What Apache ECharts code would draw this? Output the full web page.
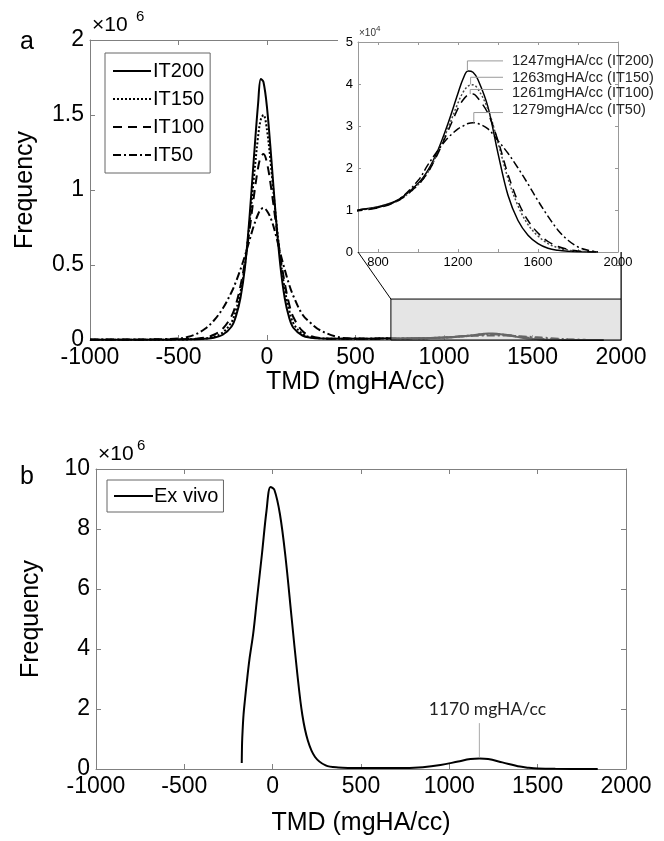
<!DOCTYPE html>
<html><head><meta charset="utf-8">
<script src="https://cdn.jsdelivr.net/npm/echarts@6/dist/echarts.min.js"></script>
<style>html,body{margin:0;padding:0;background:#fff}#c{width:664px;height:841px}</style>
</head><body><div id="c"></div>
<script>
// ---- data (frequencies in millions) ----
const tmd = [-1000,-800,-600,-500,-450,-400,-350,-300,-250,-200,-175,-150,-125,-100,-75,-50,-35,-20,0,25,50,75,100,125,150,200,250,300,400,500,600,700,800,900,1000,1050,1100,1150,1200,1225,1250,1275,1300,1350,1400,1450,1500,1550,1600,1650,1700,1750,1800,1850,1900];
const it200 = [0.002,0.002,0.002,0.003,0.004,0.005,0.008,0.015,0.035,0.09,0.16,0.28,0.48,0.8,1.2,1.58,1.74,1.72,1.55,1.2,0.82,0.5,0.28,0.15,0.08,0.03,0.015,0.01,0.008,0.008,0.009,0.0100,0.0108,0.0124,0.0163,0.0195,0.0243,0.0306,0.0378,0.0412,0.0431,0.0428,0.041,0.0345,0.0235,0.0135,0.0075,0.004,0.002,0.0009,0.0004,0.00015,0.00005,0.00002,0];
const it150 = [0.002,0.002,0.002,0.003,0.004,0.006,0.01,0.022,0.05,0.12,0.2,0.32,0.5,0.76,1.07,1.36,1.47,1.5,1.4,1.13,0.82,0.55,0.34,0.2,0.11,0.04,0.018,0.011,0.008,0.008,0.009,0.0099,0.0107,0.0122,0.016,0.019,0.0238,0.0295,0.0355,0.038,0.0395,0.0398,0.0388,0.034,0.026,0.0175,0.011,0.0065,0.0038,0.002,0.001,0.00045,0.0002,0.00005,0];
const it100 = [0.002,0.002,0.003,0.004,0.006,0.009,0.016,0.035,0.075,0.16,0.24,0.36,0.52,0.72,0.95,1.15,1.22,1.24,1.18,1.0,0.78,0.56,0.38,0.24,0.15,0.06,0.025,0.013,0.008,0.008,0.009,0.0098,0.0105,0.0122,0.016,0.019,0.0235,0.0288,0.0342,0.0362,0.0374,0.0376,0.0366,0.033,0.0265,0.0185,0.012,0.0075,0.0045,0.0025,0.0013,0.0006,0.00025,0.00008,0];
const it50 = [0.003,0.003,0.005,0.01,0.02,0.04,0.075,0.13,0.21,0.32,0.39,0.47,0.56,0.66,0.76,0.84,0.87,0.88,0.86,0.8,0.7,0.58,0.47,0.37,0.29,0.17,0.11,0.065,0.02,0.01,0.009,0.01,0.0106,0.0124,0.017,0.0208,0.0242,0.0272,0.0293,0.0300,0.0306,0.0308,0.0306,0.0293,0.0265,0.0235,0.020,0.0162,0.0122,0.0085,0.0052,0.0028,0.0012,0.0004,0.00005];
const seriesNames = ['IT200','IT150','IT100','IT50'];

const peakTmd = [1247, 1263, 1261, 1279];
const peakFreq = [0.0431, 0.0399, 0.0376, 0.0308];
const calloutLevel = [0.0455, 0.0416, 0.0387, 0.0332];
const calloutEndTmd = 1425;
const calloutText = ['1247mgHA/cc (IT200)','1263mgHA/cc (IT150)','1261mgHA/cc (IT100)','1279mgHA/cc (IT50)'];

const exTmd = [-175,-173,-170,-165,-157,-147,-132,-110,-90,-60,-35,-12,10,41,72,108,139,168,199,240,300,371,500,700,850,950,1050,1120,1170,1220,1300,1400,1450,1500,1600,1840];
const exFreq = [0.2,0.9,1.3,1.8,2.3,2.86,3.63,4.52,5.6,7.2,8.6,9.4,9.3,8.5,7.1,5.0,3.2,1.8,0.95,0.4,0.12,0.05,0.03,0.03,0.06,0.13,0.25,0.33,0.35,0.33,0.22,0.08,0.04,0.015,0.005,0.003];
const exPeakTmd = 1170, exPeakFreq = 0.38, exCalloutTop = 1.53, exCalloutText = '1170 mgHA/cc';

const zoomBoxTmd = [700, 2000];
const zoomBoxFreq = [-0.047, 0.273];
const insetTickValues = [800,1000,1200,1400,1600,1800,2000];
const insetLabelValues = [800,1200,1600,2000];

// ---- styles ----
const FONT = 'Liberation Sans, Arial, sans-serif';
const AX = '#808080';
const dash = {IT200:'solid', IT150:[2,2], IT100:[9,6], IT50:[8,3,2,3]};
const calloutOffset = [[0,0],[0,1],[0,4],[0,-3]];
const pairs = (xs, ys) => xs.map((x, i) => [x, ys[i]]);
const seriesData = [it200, it150, it100, it50];
const plain = v => String(v);

function xAx(grid, pos, min, max, opts) {
  return Object.assign({
    type:'value', gridIndex:grid, position:pos, min, max,
    axisLine:{show:true, onZero:false, lineStyle:{color:AX, width:1}},
    axisTick:{show:true, inside:true, length:5, lineStyle:{color:AX}},
    axisLabel:{show:pos==='bottom', color:'#000', fontSize:23, fontFamily:FONT, margin:6, formatter:plain},
    splitLine:{show:false}
  }, opts || {});
}
function yAx(grid, pos, min, max, interval, opts) {
  return Object.assign({
    type:'value', gridIndex:grid, position:pos, min, max, interval,
    axisLine:{show:true, onZero:false, lineStyle:{color:AX, width:1}},
    axisTick:{show:true, inside:true, length:5, lineStyle:{color:AX}},
    axisLabel:{show:pos==='left', color:'#000', fontSize:23, fontFamily:FONT, margin:6, formatter:plain},
    splitLine:{show:false}
  }, opts || {});
}

const insetXOpts = (showLab) => ({
  z:5,
  axisLine:{show:true, onZero:false, lineStyle:{color:'#999'}},
  axisTick:{show:true, inside:true, length:3, customValues:insetTickValues, lineStyle:{color:'#999'}},
  axisLabel:{show:showLab, customValues:insetLabelValues, color:'#000', fontSize:13, fontFamily:FONT, margin:4, formatter:plain}
});
const insetYOpts = (showLab) => ({
  z:5,
  axisLine:{show:true, onZero:false, lineStyle:{color:'#999'}},
  axisTick:{show:true, inside:true, length:3, lineStyle:{color:'#999'}},
  axisLabel:{show:showLab, color:'#000', fontSize:13, fontFamily:FONT, margin:5, formatter:v=>String(Math.round(v*100))}
});

const series = [];
seriesNames.forEach((n, i) => {
  const s = {
    name:n, type:'line', xAxisIndex:0, yAxisIndex:0, data:pairs(tmd, seriesData[i]),
    smooth:0.35, symbol:'none', z:2,
    lineStyle:{color:'#000', width:2, type:dash[n]}, itemStyle:{color:'#000'}
  };
  if (i === 3) {
    s.clip = false;
    s.markArea = {
      silent:true, z:10,
      itemStyle:{color:'rgba(204,204,204,0.5)', borderColor:'#000', borderWidth:1},
      data:[[{xAxis:zoomBoxTmd[0], yAxis:zoomBoxFreq[0]}, {xAxis:zoomBoxTmd[1], yAxis:zoomBoxFreq[1]}]]
    };
  }
  series.push(s);
});
seriesNames.forEach((n, i) => {
  series.push({
    name:n, type:'line', xAxisIndex:2, yAxisIndex:2, data:pairs(tmd, seriesData[i]),
    smooth:0.35, symbol:'none', z:6,
    lineStyle:{color: i===1 ? '#444' : '#000', width:1.5, type:dash[n]}
  });
});
peakTmd.forEach((px, i) => {
  series.push({
    name:'callout'+i, type:'line', xAxisIndex:2, yAxisIndex:2, z:6, silent:true,
    data:[[px, peakFreq[i]], [px, calloutLevel[i]], [calloutEndTmd, calloutLevel[i]]],
    symbol:'none', lineStyle:{color:'#9a9a9a', width:1},
    markPoint:{symbol:'circle', symbolSize:0, silent:true,
      label:{show:true, position:'right', distance:9, offset:calloutOffset[i], formatter:calloutText[i], color:'#222', fontSize:14.5, fontFamily:FONT},
      data:[{coord:[calloutEndTmd, calloutLevel[i]]}]}
  });
});
series.push({
  name:'Ex vivo', type:'line', xAxisIndex:4, yAxisIndex:4, data:pairs(exTmd, exFreq),
  smooth:0.35, symbol:'none', lineStyle:{color:'#000', width:2}, itemStyle:{color:'#000'}
});
series.push({
  name:'exCallout', type:'line', xAxisIndex:4, yAxisIndex:4, silent:true,
  data:[[exPeakTmd, exPeakFreq], [exPeakTmd, exCalloutTop]], symbol:'none',
  lineStyle:{color:'#aaa', width:1},
  markPoint:{symbol:'circle', symbolSize:0, silent:true,
    label:{show:true, position:'top', distance:5, offset:[8,0], formatter:exCalloutText, color:'#222', fontSize:17.5, fontFamily:'Lato, Open Sans, sans-serif'},
    data:[{coord:[exPeakTmd, exCalloutTop]}]}
});

const axisNameStyle = {fontSize:25, color:'#000', fontFamily:FONT};
const option = {
  animation:false,
  backgroundColor:'#fff',
  textStyle:{fontFamily:FONT},
  grid:[
    {left:90, top:40, width:531, height:300},
    {left:358, top:42, width:260, height:210, show:true, backgroundColor:'#fff', borderWidth:0, z:4},
    {left:96, top:469, width:530, height:300}
  ],
  xAxis:[
    xAx(0,'bottom',-1000,2000,{interval:500, name:'TMD (mgHA/cc)', nameLocation:'middle', nameGap:30, nameTextStyle:axisNameStyle}),
    xAx(0,'top',-1000,2000,{interval:500}),
    Object.assign(xAx(1,'bottom',700,2000), insetXOpts(true)),
    Object.assign(xAx(1,'top',700,2000), insetXOpts(false)),
    xAx(2,'bottom',-1000,2000,{interval:500, name:'TMD (mgHA/cc)', nameLocation:'middle', nameGap:42, nameTextStyle:axisNameStyle}),
    xAx(2,'top',-1000,2000,{interval:500})
  ],
  yAxis:[
    yAx(0,'left',0,2,0.5,{name:'Frequency', nameLocation:'middle', nameGap:52, nameRotate:90, nameTextStyle:axisNameStyle}),
    yAx(0,'right',0,2,0.5),
    Object.assign(yAx(1,'left',0,0.05,0.01), insetYOpts(true)),
    Object.assign(yAx(1,'right',0,0.05,0.01), insetYOpts(false)),
    yAx(2,'left',0,10,2,{name:'Frequency', nameLocation:'middle', nameGap:52, nameRotate:90, nameTextStyle:axisNameStyle}),
    yAx(2,'right',0,10,2)
  ],
  legend:[
    {data:seriesNames, orient:'vertical', left:105, top:53, itemWidth:38, itemHeight:14, itemGap:8, padding:[8,6,8,7],
     borderColor:'#666', borderWidth:1, backgroundColor:'#fff', selectedMode:false,
     itemStyle:{opacity:0}, lineStyle:{width:2},
     textStyle:{fontSize:20, color:'#000', fontFamily:FONT, padding:[0,0,0,-3]}},
    {data:['Ex vivo'], orient:'vertical', left:107, top:480, itemWidth:39, itemHeight:14, padding:[6,5,6,6],
     borderColor:'#666', borderWidth:1, backgroundColor:'#fff', selectedMode:false,
     itemStyle:{opacity:0}, lineStyle:{width:2},
     textStyle:{fontSize:20, color:'#000', fontFamily:FONT, padding:[0,0,0,-4]}}
  ],
  series
};

const chart = echarts.init(document.getElementById('c'), null, {renderer:'canvas'});
chart.setOption(option);

const pIL = chart.convertToPixel({xAxisIndex:2, yAxisIndex:2}, [zoomBoxTmd[0], 0]);
const pIR = chart.convertToPixel({xAxisIndex:2, yAxisIndex:2}, [zoomBoxTmd[1], 0]);
const pBL = chart.convertToPixel({xAxisIndex:0, yAxisIndex:0}, [zoomBoxTmd[0], zoomBoxFreq[1]]);
const pBR = chart.convertToPixel({xAxisIndex:0, yAxisIndex:0}, [zoomBoxTmd[1], zoomBoxFreq[1]]);

chart.setOption({
  graphic:[
    {type:'rect', z:3, silent:true, shape:{x:338, y:0, width:326, height:pIL[1]}, style:{fill:'#fff'}},
    {type:'line', z:20, silent:true, shape:{x1:pIL[0], y1:pIL[1], x2:pBL[0], y2:pBL[1]}, style:{stroke:'#000', lineWidth:1}},
    {type:'line', z:20, silent:true, shape:{x1:pIR[0]+3, y1:pIR[1], x2:pBR[0], y2:pBR[1]}, style:{stroke:'#000', lineWidth:1}},
    {type:'text', z:20, left:20, top:30, style:{text:'a', fontSize:25, fontFamily:FONT, fill:'#000'}},
    {type:'text', z:20, left:20, top:465, style:{text:'b', fontSize:25, fontFamily:FONT, fill:'#000'}},
    {type:'text', z:20, left:92, top:15, style:{text:'×10', fontSize:21, fontFamily:FONT, fill:'#000'}},
    {type:'text', z:20, left:136, top:9, style:{text:'6', fontSize:15, fontFamily:FONT, fill:'#000'}},
    {type:'text', z:20, left:98, top:444, style:{text:'×10', fontSize:21, fontFamily:FONT, fill:'#000'}},
    {type:'text', z:20, left:137, top:438, style:{text:'6', fontSize:15, fontFamily:FONT, fill:'#000'}},
    {type:'text', z:20, left:359, top:28, style:{text:'×10', fontSize:10, fontFamily:FONT, fill:'#333'}},
    {type:'text', z:20, left:376, top:25, style:{text:'4', fontSize:8, fontFamily:FONT, fill:'#333'}}
  ]
});
</script></body></html>
